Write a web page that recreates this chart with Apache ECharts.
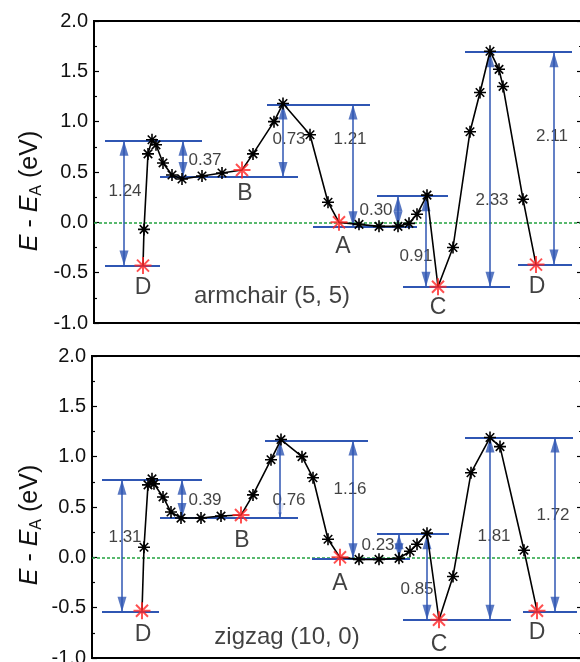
<!DOCTYPE html>
<html>
<head>
<meta charset="utf-8">
<script src="https://cdn.jsdelivr.net/npm/echarts@6/dist/echarts.min.js"></script>
<style>
  html, body { margin: 0; padding: 0; background: #fff; }
  #chart { width: 580px; height: 662px; }
</style>
</head>
<body>
<div id="chart"></div>
<script>
// armchair (5, 5): reaction path, x is the reaction coordinate (arb. units)
const armX = [49, 50, 54, 58, 62, 69, 78, 88, 108, 128, 148, 159, 180, 189, 216, 234, 245, 265, 285, 304, 315, 323, 333, 344, 359, 376, 386, 396, 405, 409, 429, 442]
const armY = [-0.43, -0.07, 0.68, 0.82, 0.77, 0.59, 0.47, 0.43, 0.46, 0.49, 0.52, 0.68, 1.00, 1.18, 0.87, 0.20, 0.00, -0.02, -0.04, -0.04, -0.01, 0.08, 0.27, -0.64, -0.25, 0.90, 1.29, 1.70, 1.52, 1.35, 0.23, -0.42]
const armStates = [0, 10, 16, 23, 31]
// energy levels: [from x, to x, E]
const armLevels = [[11, 66, -0.43], [11, 108, 0.81], [66, 204, 0.45], [173, 276, 1.17], [219, 323, -0.04], [283, 354, 0.26], [309, 416, -0.64], [371, 478, 1.69], [424, 478, -0.42]]
// barriers: [x, E top, E bottom, text, text x, text y, boxed]
const armBarriers = [
  [30, 0.81, -0.43, '1.24', 31, 0.31, true],
  [89, 0.81, 0.45, '0.37', 111, 0.62, false],
  [189, 1.17, 0.45, '0.73', 195, 0.82, true],
  [259, 1.17, -0.04, '1.21', 256, 0.82, true],
  [304, 0.26, -0.04, '0.30', 282, 0.12, false],
  [332, 0.26, -0.64, '0.91', 322, -0.34, true],
  [396, 1.69, -0.64, '2.33', 398, 0.22, true],
  [460, 1.69, -0.42, '2.11', 458, 0.85, true]
]
const armTags = [['D', 49, -0.65], ['B', 151, 0.28], ['A', 249, -0.24], ['C', 344, -0.85], ['D', 443, -0.64]]
const armTitle = ['armchair (5, 5)', 178, -0.735]

// zigzag (10, 0)
const zigX = [50, 52, 56, 60, 62, 71, 79, 89, 109, 129, 149, 161, 179, 189, 210, 221, 236, 248, 267, 287, 307, 318, 325, 335, 347, 361, 379, 398, 408, 432, 445]
const zigY = [-0.53, 0.10, 0.72, 0.78, 0.73, 0.60, 0.45, 0.39, 0.39, 0.41, 0.42, 0.62, 0.97, 1.17, 1.00, 0.79, 0.18, 0.00, -0.02, -0.02, -0.01, 0.06, 0.13, 0.24, -0.62, -0.19, 0.84, 1.19, 1.10, 0.07, -0.53]
const zigStates = [0, 10, 17, 24, 30]
const zigLevels = [[10, 67, -0.54], [10, 110, 0.77], [68, 206, 0.39], [173, 276, 1.16], [220, 318, -0.01], [285, 357, 0.23], [311, 419, -0.62], [373, 481, 1.19], [431, 485, -0.54]]
const zigBarriers = [
  [30, 0.77, -0.54, '1.31', 33, 0.20, true],
  [90, 0.77, 0.39, '0.39', 113, 0.57, false],
  [188, 1.16, 0.39, '0.76', 197, 0.57, true],
  [261, 1.16, -0.01, '1.16', 258, 0.68, true],
  [307, 0.23, -0.01, '0.23', 286, 0.12, false],
  [335, 0.23, -0.62, '0.85', 325, -0.32, true],
  [398, 1.19, -0.62, '1.81', 402, 0.21, true],
  [463, 1.19, -0.54, '1.72', 461, 0.42, true]
]
const zigTags = [['D', 51, -0.77], ['B', 150, 0.17], ['A', 248, -0.26], ['C', 347, -0.87], ['D', 445, -0.75]]
const zigTitle = ['zigzag (10, 0)', 195, -0.80]

const yTicks = { min: -1, max: 2, interval: 0.5 }

const BLUE = '#2f56b3'
const RED = '#ff2424'
const GREEN = '#22a33f'
const FONT = 'Liberation Sans'
const STAR = 'path://M0,-10L0,10M-10,0L10,0M-7.07,-7.07L7.07,7.07M-7.07,7.07L7.07,-7.07'
const HEAD = [9, 15]

function buildPanel (g, px, py, states, levels, barriers, tags, title) {
  let axes = { xAxisIndex: g, yAxisIndex: g * 2 }
  let series = []
  // zero line
  series.push(Object.assign({
    type: 'line', data: [], silent: true, z: 1,
    markLine: {
      silent: true, symbol: 'none', label: { show: false },
      lineStyle: { color: GREEN, type: [3, 2], width: 1.5 },
      data: [{ yAxis: 0 }]
    }
  }, axes))
  // level lines
  series.push(Object.assign({
    type: 'line', data: [], silent: true, z: 2,
    markLine: {
      silent: true, symbol: 'none', label: { show: false },
      lineStyle: { color: BLUE, type: 'solid', width: 2 },
      data: levels.map(l => [{ coord: [l[0], l[2]] }, { coord: [l[1], l[2]] }])
    }
  }, axes))
  // barrier arrow shafts
  series.push(Object.assign({
    type: 'line', data: [], silent: true, z: 3,
    markLine: {
      silent: true, symbol: 'none', label: { show: false },
      lineStyle: { color: BLUE, type: 'solid', width: 1.5 },
      data: barriers.map(b => [{ coord: [b[0], b[1]] }, { coord: [b[0], b[2]] }])
    }
  }, axes))
  // barrier arrow heads, tips resting on the levels
  let heads = []
  barriers.forEach(b => {
    heads.push({ value: [b[0], b[1]], symbolRotate: 0, symbolOffset: [0, HEAD[1] / 2] })
    heads.push({ value: [b[0], b[2]], symbolRotate: 180, symbolOffset: [0, -HEAD[1] / 2] })
  })
  series.push(Object.assign({
    type: 'scatter', silent: true, z: 3,
    symbol: 'triangle', symbolSize: HEAD,
    itemStyle: { color: BLUE },
    data: heads
  }, axes))
  // barrier values
  series.push(Object.assign({
    type: 'scatter', silent: true, z: 4, symbolSize: 1,
    itemStyle: { color: 'rgba(0,0,0,0)' },
    label: { show: true, position: 'inside', formatter: '{b}', fontFamily: FONT, fontSize: 17, color: '#111' },
    data: barriers.map(b => ({
      name: b[3], value: [b[4], b[5]],
      label: b[6] ? { backgroundColor: '#fff', padding: [4, 1] } : {}
    }))
  }, axes))
  // state letters and panel title
  series.push(Object.assign({
    type: 'scatter', silent: true, z: 4, symbolSize: 1,
    itemStyle: { color: 'rgba(0,0,0,0)' },
    label: { show: true, position: 'inside', formatter: '{b}', fontFamily: FONT, fontSize: 23, color: '#111' },
    data: tags.map(t => ({ name: t[0], value: [t[1], t[2]] }))
      .concat([{ name: title[0], value: [title[1], title[2]], label: { fontSize: 24 } }])
  }, axes))
  // reaction path
  series.push(Object.assign({
    type: 'line', silent: true, z: 5,
    lineStyle: { color: '#000', width: 1.6 },
    symbol: STAR, symbolSize: 12, showAllSymbol: true,
    itemStyle: { color: '#000', borderColor: '#000', borderWidth: 1.6 },
    data: px.map((x, i) => ({ value: [x, py[i]], symbol: states.indexOf(i) >= 0 ? 'none' : STAR }))
  }, axes))
  // stationary states
  series.push(Object.assign({
    type: 'scatter', silent: true, z: 6,
    symbol: STAR, symbolSize: 17,
    itemStyle: { color: RED, borderColor: RED, borderWidth: 2 },
    data: states.map(i => [px[i], py[i]])
  }, axes))
  return series
}

function yAxes (g) {
  let base = {
    gridIndex: g, type: 'value', min: yTicks.min, max: yTicks.max, interval: yTicks.interval,
    axisLine: { show: false }, splitLine: { show: false },
    axisTick: { show: true, inside: true, length: 5, lineStyle: { color: '#000', width: 1.2 } },
    minorTick: { show: true, splitNumber: 2, length: 3, lineStyle: { color: '#000', width: 1.2 } }
  }
  return [
    Object.assign({}, base, {
      position: 'left',
      axisLabel: { margin: 6, fontFamily: FONT, fontSize: 20, color: '#111', formatter: v => v.toFixed(1) }
    }),
    Object.assign({}, base, { position: 'right', axisLabel: { show: false } })
  ]
}

function xAxis (g, max) {
  return {
    gridIndex: g, type: 'value', min: 0, max: max,
    axisLine: { show: false }, axisTick: { show: false }, axisLabel: { show: false }, splitLine: { show: false }
  }
}

const nameText = {
  type: 'text', rotation: Math.PI / 2,
  style: {
    text: '{i|E} - {i|E}{s|A} (eV)', align: 'center', verticalAlign: 'middle',
    font: '25px Liberation Sans', fill: '#111',
    rich: {
      i: { fontStyle: 'italic', fontFamily: FONT, fontSize: 25 },
      s: { fontFamily: FONT, fontSize: 16, padding: [13, 0, 0, 0] }
    }
  }
}

const chart = echarts.init(document.getElementById('chart'))
chart.setOption({
  animation: false,
  backgroundColor: '#fff',
  textStyle: { fontFamily: FONT },
  grid: [
    { left: 94, top: 21, width: 488, height: 302, outerBoundsMode: 'none', show: true, borderColor: '#000', borderWidth: 2 },
    { left: 92, top: 356, width: 490, height: 302, outerBoundsMode: 'none', show: true, borderColor: '#000', borderWidth: 2 }
  ],
  xAxis: [xAxis(0, 488), xAxis(1, 490)],
  yAxis: yAxes(0).concat(yAxes(1)),
  graphic: [
    Object.assign({}, nameText, { x: 30, y: 191 }),
    Object.assign({}, nameText, { x: 30, y: 525 })
  ],
  series: buildPanel(0, armX, armY, armStates, armLevels, armBarriers, armTags, armTitle)
    .concat(buildPanel(1, zigX, zigY, zigStates, zigLevels, zigBarriers, zigTags, zigTitle))
})
</script>
</body>
</html>
